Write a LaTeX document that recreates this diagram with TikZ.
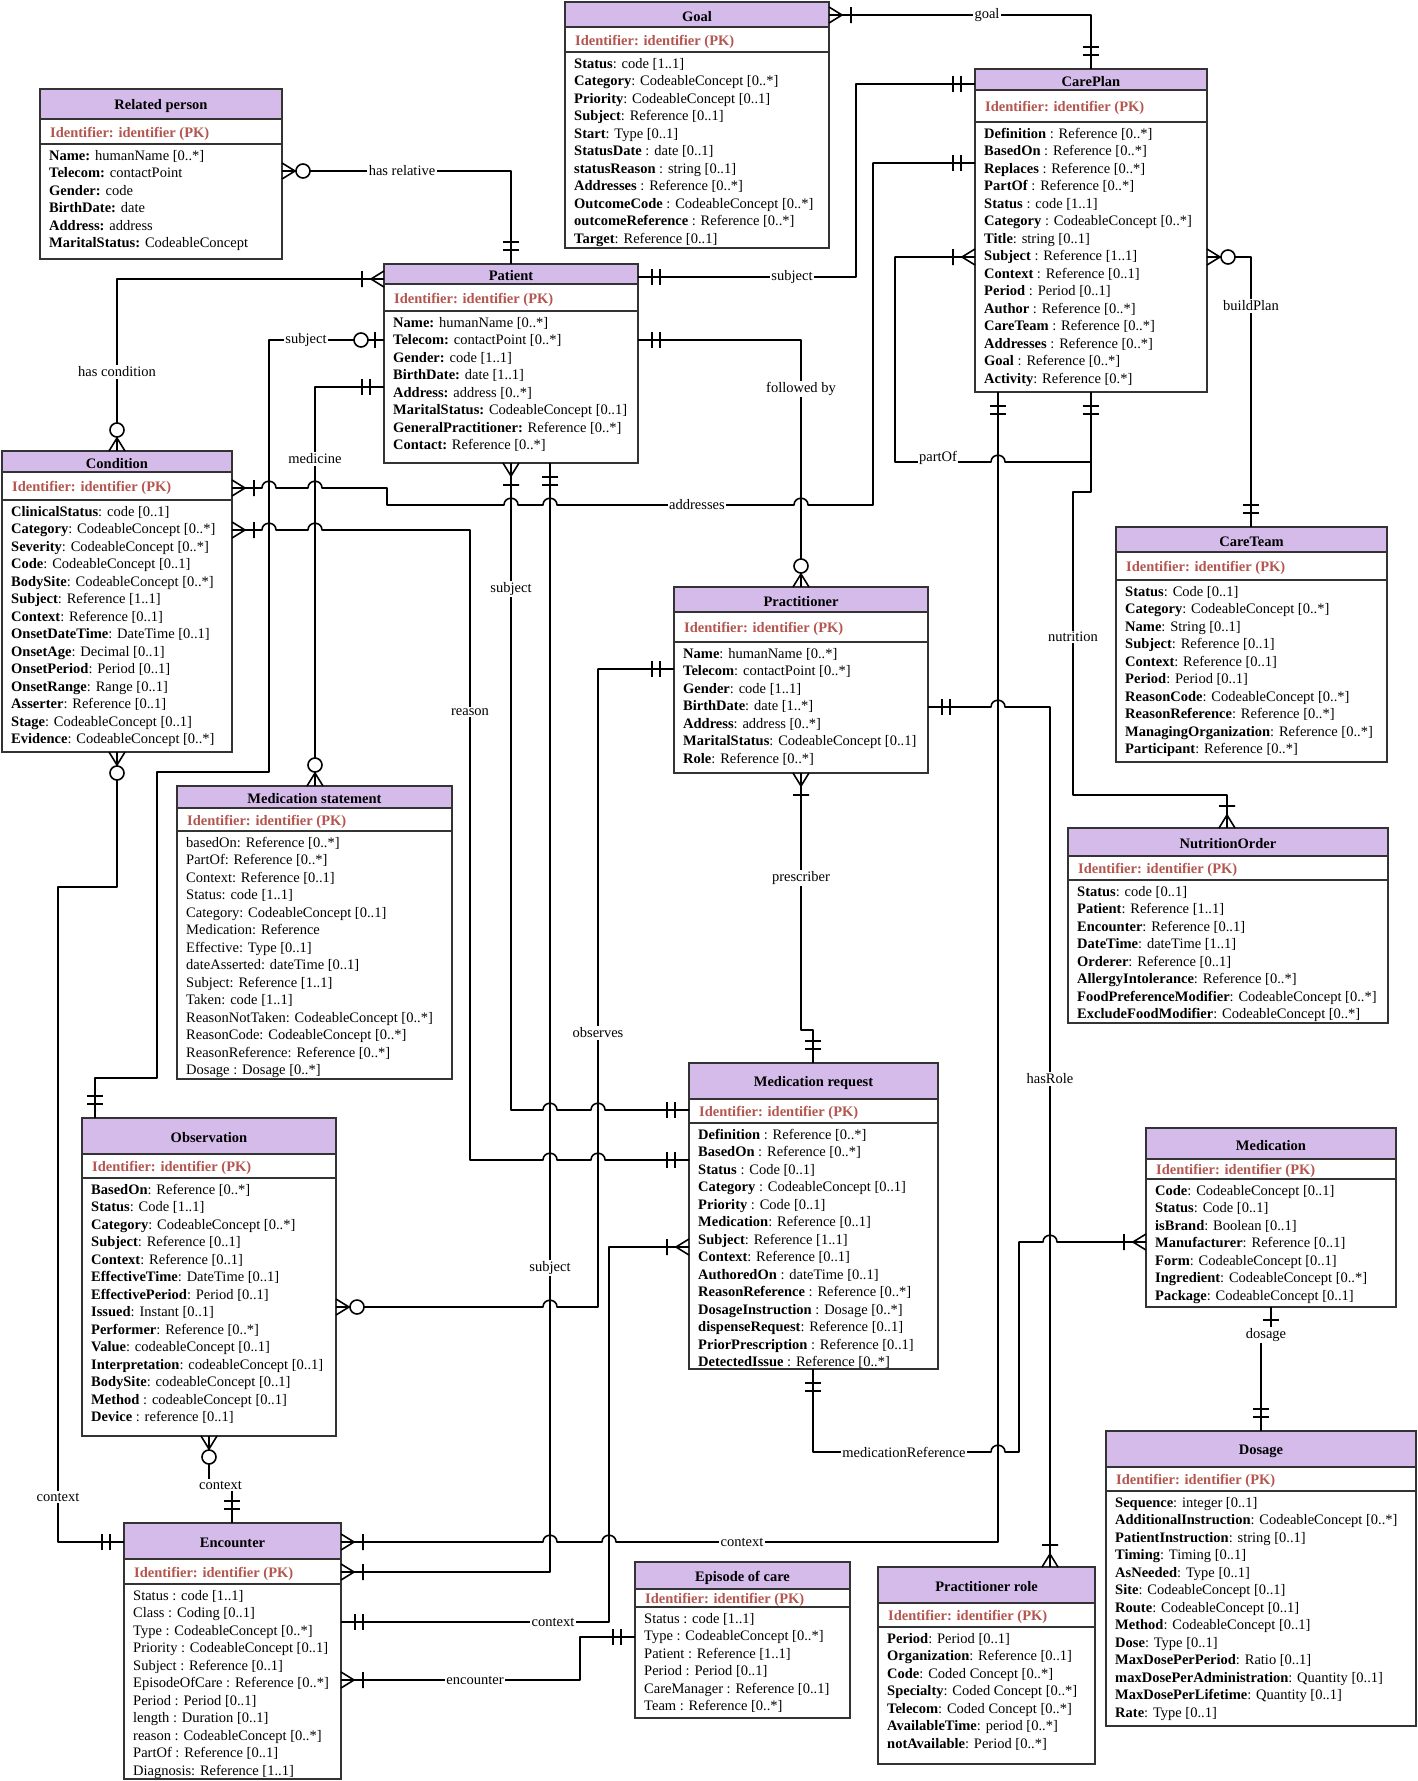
\documentclass[tikz,border=0pt]{standalone}
\usepackage{fontspec}
\setmainfont{Liberation Serif}
\usepackage{tikz}
\usetikzlibrary{arrows.meta,positioning,calc}
\definecolor{headfill}{HTML}{D4BBEA}
\definecolor{pkred}{HTML}{B4554F}
\definecolor{boxline}{HTML}{333333}
\newcommand{\erfont}{\fontsize{14.5}{17.5}\selectfont}

% crow's foot ends (box edge at the tip)
\pgfdeclarearrow{
  name = ERone,
  setup code = {\pgfarrowssettipend{0pt}\pgfarrowssetlineend{0pt}
    \pgfarrowssetbackend{-24pt}\pgfarrowssetvisualbackend{-24pt}},
  drawing code = {\pgfsetdash{}{0pt}
    \pgfpathmoveto{\pgfqpoint{-14pt}{-8pt}}\pgfpathlineto{\pgfqpoint{-14pt}{8pt}}
    \pgfpathmoveto{\pgfqpoint{-22pt}{-8pt}}\pgfpathlineto{\pgfqpoint{-22pt}{8pt}}
    \pgfusepathqstroke}
}
\pgfdeclarearrow{
  name = ERbar,
  setup code = {\pgfarrowssettipend{0pt}\pgfarrowssetlineend{0pt}
    \pgfarrowssetbackend{-16pt}\pgfarrowssetvisualbackend{-16pt}},
  drawing code = {\pgfsetdash{}{0pt}
    \pgfpathmoveto{\pgfqpoint{-13pt}{-8pt}}\pgfpathlineto{\pgfqpoint{-13pt}{8pt}}
    \pgfusepathqstroke}
}
\pgfdeclarearrow{
  name = ERmany,
  setup code = {\pgfarrowssettipend{0pt}\pgfarrowssetlineend{0pt}
    \pgfarrowssetbackend{-24pt}\pgfarrowssetvisualbackend{-24pt}},
  drawing code = {\pgfsetdash{}{0pt}
    \pgfpathmoveto{\pgfqpoint{0pt}{8pt}}\pgfpathlineto{\pgfqpoint{-13pt}{0pt}}
    \pgfpathlineto{\pgfqpoint{0pt}{-8pt}}
    \pgfpathmoveto{\pgfqpoint{-22pt}{-8pt}}\pgfpathlineto{\pgfqpoint{-22pt}{8pt}}
    \pgfusepathqstroke}
}
\pgfdeclarearrow{
  name = ERzmany,
  setup code = {\pgfarrowssettipend{0pt}\pgfarrowssetlineend{0pt}
    \pgfarrowssetbackend{-29pt}\pgfarrowssetvisualbackend{-29pt}},
  drawing code = {\pgfsetdash{}{0pt}
    \pgfpathmoveto{\pgfqpoint{0pt}{8pt}}\pgfpathlineto{\pgfqpoint{-13pt}{0pt}}
    \pgfpathlineto{\pgfqpoint{0pt}{-8pt}}
    \pgfusepathqstroke
    \begin{pgfscope}\pgfsetfillcolor{white}
    \pgfpathcircle{\pgfqpoint{-21pt}{0pt}}{7pt}\pgfusepathqfillstroke
    \end{pgfscope}}
}
\pgfdeclarearrow{
  name = ERzone,
  setup code = {\pgfarrowssettipend{0pt}\pgfarrowssetlineend{0pt}
    \pgfarrowssetbackend{-31pt}\pgfarrowssetvisualbackend{-31pt}},
  drawing code = {\pgfsetdash{}{0pt}
    \pgfpathmoveto{\pgfqpoint{-9pt}{-8pt}}\pgfpathlineto{\pgfqpoint{-9pt}{8pt}}
    \pgfusepathqstroke
    \begin{pgfscope}\pgfsetfillcolor{white}
    \pgfpathcircle{\pgfqpoint{-23pt}{0pt}}{7pt}\pgfusepathqfillstroke
    \end{pgfscope}}
}

\tikzset{
  tablebox/.style={rectangle,inner sep=0pt,outer sep=0pt},
  tableline/.style={draw=boxline,line width=1.3pt},
  titletext/.style={inner sep=0pt,font=\erfont\bfseries},
  pktext/.style={anchor=west,inner sep=0pt,text=pkred,font=\erfont\bfseries},
  rowtext/.style={anchor=north west,inner sep=0pt,align=left,font=\erfont},
  rel/.style={draw=black,line width=1.6pt,line join=round},
  rellabel/.style={fill=white,inner sep=1.5pt,font=\erfont}
}

% line jumps on horizontal runs
\newcommand{\hopr}[2]{-- (#1-7,#2) .. controls (#1-7,#2-9) and (#1+7,#2-9) .. (#1+7,#2)}
\newcommand{\hopl}[2]{-- (#1+7,#2) .. controls (#1+7,#2-9) and (#1-7,#2-9) .. (#1-7,#2)}

% name, left, top, width, height, title bar, key row, title, rows
\newcommand{\ertable}[9]{%
  \node[tablebox,minimum width=#4,minimum height=#5] (#1) at (#2+#4/2,#3+#5/2) {};
  \fill[headfill] (#1.north west) rectangle (#2+#4,#3+#6);
  \draw[tableline] (#2,#3+#6) -- (#2+#4,#3+#6) (#2,#3+#6+#7) -- (#2+#4,#3+#6+#7);
  \draw[tableline] (#1.north west) rectangle (#1.south east);
  \node[titletext] (#1-title) at (#2+#4/2,#3+#6/2+2) {#8};
  \node[pktext] (#1-pk) at (#2+10,#3+#6+#7/2+2) {Identifier: identifier (PK)};
  \node[rowtext] (#1-rows) at (#2+9,#3+#6+#7+6) {#9};
}

\begin{document}
\begin{tikzpicture}[x=1pt,y=-1pt]
  \fill[white] (0,0) rectangle (1418,1781);
  \useasboundingbox (0,0) rectangle (1418,1781);

  \ertable{relperson}{40}{89}{242}{170}{30}{25}{Related person}{%
    \textbf{Name:} humanName [0..*]\\\textbf{Telecom:} contactPoint\\\textbf{Gender:} code\\
    \textbf{BirthDate:} date\\\textbf{Address:} address\\\textbf{MaritalStatus:} CodeableConcept}
  \ertable{goal}{565}{2}{264}{246}{25}{25}{Goal}{%
    \textbf{Status}: code [1..1]\\\textbf{Category}: CodeableConcept [0..*]\\
    \textbf{Priority}: CodeableConcept [0..1]\\\textbf{Subject}: Reference [0..1]\\
    \textbf{Start}: Type [0..1]\\\textbf{StatusDate} : date [0..1]\\
    \textbf{statusReason} : string [0..1]\\\textbf{Addresses} : Reference [0..*]\\
    \textbf{OutcomeCode} : CodeableConcept [0..*]\\\textbf{outcomeReference} : Reference [0..*]\\
    \textbf{Target}: Reference [0..1]}
  \ertable{careplan}{975}{69}{232}{323}{21}{32}{CarePlan}{%
    \textbf{Definition} : Reference [0..*]\\\textbf{BasedOn} : Reference [0..*]\\
    \textbf{Replaces} : Reference [0..*]\\\textbf{PartOf} : Reference [0..*]\\
    \textbf{Status} : code [1..1]\\\textbf{Category} : CodeableConcept [0..*]\\
    \textbf{Title}: string [0..1]\\\textbf{Subject} : Reference [1..1]\\
    \textbf{Context} : Reference [0..1]\\\textbf{Period} : Period [0..1]\\
    \textbf{Author} : Reference [0..*]\\\textbf{CareTeam} : Reference [0..*]\\
    \textbf{Addresses} : Reference [0..*]\\\textbf{Goal} : Reference [0..*]\\
    \textbf{Activity}: Reference [0.*]}
  \ertable{patient}{384}{264}{254}{199}{20}{27}{Patient}{%
    \textbf{Name:} humanName [0..*]\\\textbf{Telecom:} contactPoint [0..*]\\
    \textbf{Gender:} code [1..1]\\\textbf{BirthDate:} date [1..1]\\
    \textbf{Address:} address [0..*]\\\textbf{MaritalStatus:} CodeableConcept [0..1]\\
    \textbf{GeneralPractitioner:} Reference [0..*]\\\textbf{Contact:} Reference [0..*]}
  \ertable{condition}{2}{451}{230}{301}{21}{28}{Condition}{%
    \textbf{ClinicalStatus}: code [0..1]\\\textbf{Category}: CodeableConcept [0..*]\\
    \textbf{Severity}: CodeableConcept [0..*]\\\textbf{Code}: CodeableConcept [0..1]\\
    \textbf{BodySite}: CodeableConcept [0..*]\\\textbf{Subject}: Reference [1..1]\\
    \textbf{Context}: Reference [0..1]\\\textbf{OnsetDateTime}: DateTime [0..1]\\
    \textbf{OnsetAge}: Decimal [0..1]\\\textbf{OnsetPeriod}: Period [0..1]\\
    \textbf{OnsetRange}: Range [0..1]\\\textbf{Asserter}: Reference [0..1]\\
    \textbf{Stage}: CodeableConcept [0..1]\\\textbf{Evidence}: CodeableConcept [0..*]}
  \ertable{careteam}{1116}{527}{271}{235}{25}{28}{CareTeam}{%
    \textbf{Status}: Code [0..1]\\\textbf{Category}: CodeableConcept [0..*]\\
    \textbf{Name}: String [0..1]\\\textbf{Subject}: Reference [0..1]\\
    \textbf{Context}: Reference [0..1]\\\textbf{Period}: Period [0..1]\\
    \textbf{ReasonCode}: CodeableConcept [0..*]\\\textbf{ReasonReference}: Reference [0..*]\\
    \textbf{ManagingOrganization}: Reference [0..*]\\\textbf{Participant}: Reference [0..*]}
  \ertable{practitioner}{674}{587}{254}{186}{25}{30}{Practitioner}{%
    \textbf{Name}: humanName [0..*]\\\textbf{Telecom}: contactPoint [0..*]\\
    \textbf{Gender}: code [1..1]\\\textbf{BirthDate}: date [1..*]\\
    \textbf{Address}: address [0..*]\\\textbf{MaritalStatus}: CodeableConcept [0..1]\\
    \textbf{Role}: Reference [0..*]}
  \ertable{medstatement}{177}{786}{275}{293}{22}{23}{Medication statement}{%
    basedOn: Reference [0..*]\\PartOf: Reference [0..*]\\Context: Reference [0..1]\\
    Status: code [1..1]\\Category: CodeableConcept [0..1]\\Medication: Reference\\
    Effective: Type [0..1]\\dateAsserted: dateTime [0..1]\\Subject: Reference [1..1]\\
    Taken: code [1..1]\\ReasonNotTaken: CodeableConcept [0..*]\\
    ReasonCode: CodeableConcept [0..*]\\ReasonReference: Reference [0..*]\\
    Dosage : Dosage [0..*]}
  \ertable{nutrition}{1068}{828}{320}{195}{28}{24}{NutritionOrder}{%
    \textbf{Status}: code [0..1]\\\textbf{Patient}: Reference [1..1]\\
    \textbf{Encounter}: Reference [0..1]\\\textbf{DateTime}: dateTime [1..1]\\
    \textbf{Orderer}: Reference [0..1]\\\textbf{AllergyIntolerance}: Reference [0..*]\\
    \textbf{FoodPreferenceModifier}: CodeableConcept [0..*]\\
    \textbf{ExcludeFoodModifier}: CodeableConcept [0..*]}
  \ertable{medrequest}{689}{1063}{249}{306}{36}{24}{Medication request}{%
    \textbf{Definition} : Reference [0..*]\\\textbf{BasedOn} : Reference [0..*]\\
    \textbf{Status} : Code [0..1]\\\textbf{Category} : CodeableConcept [0..1]\\
    \textbf{Priority} : Code [0..1]\\\textbf{Medication}: Reference [0..1]\\
    \textbf{Subject}: Reference [1..1]\\\textbf{Context}: Reference [0..1]\\
    \textbf{AuthoredOn} : dateTime [0..1]\\\textbf{ReasonReference} : Reference [0..*]\\
    \textbf{DosageInstruction} : Dosage [0..*]\\\textbf{dispenseRequest}: Reference [0..1]\\
    \textbf{PriorPrescription} : Reference [0..1]\\\textbf{DetectedIssue} : Reference [0..*]}
  \ertable{observation}{82}{1118}{254}{318}{36}{24}{Observation}{%
    \textbf{BasedOn}: Reference [0..*]\\\textbf{Status}: Code [1..1]\\
    \textbf{Category}: CodeableConcept [0..*]\\\textbf{Subject}: Reference [0..1]\\
    \textbf{Context}: Reference [0..1]\\\textbf{EffectiveTime}: DateTime [0..1]\\
    \textbf{EffectivePeriod}: Period [0..1]\\\textbf{Issued}: Instant [0..1]\\
    \textbf{Performer}: Reference [0..*]\\\textbf{Value}: codeableConcept [0..1]\\
    \textbf{Interpretation}: codeableConcept [0..1]\\\textbf{BodySite}: codeableConcept [0..1]\\
    \textbf{Method} : codeableConcept [0..1]\\\textbf{Device} : reference [0..1]}
  \ertable{medication}{1146}{1128}{250}{179}{31}{20}{Medication}{%
    \textbf{Code}: CodeableConcept [0..1]\\\textbf{Status}: Code [0..1]\\
    \textbf{isBrand}: Boolean [0..1]\\\textbf{Manufacturer}: Reference [0..1]\\
    \textbf{Form}: CodeableConcept [0..1]\\\textbf{Ingredient}: CodeableConcept [0..*]\\
    \textbf{Package}: CodeableConcept [0..1]}
  \ertable{dosage}{1106}{1431}{310}{295}{36}{24}{Dosage}{%
    \textbf{Sequence}: integer [0..1]\\\textbf{AdditionalInstruction}: CodeableConcept [0..*]\\
    \textbf{PatientInstruction}: string [0..1]\\\textbf{Timing}: Timing [0..1]\\
    \textbf{AsNeeded}: Type [0..1]\\\textbf{Site}: CodeableConcept [0..1]\\
    \textbf{Route}: CodeableConcept [0..1]\\\textbf{Method}: CodeableConcept [0..1]\\
    \textbf{Dose}: Type [0..1]\\\textbf{MaxDosePerPeriod}: Ratio [0..1]\\
    \textbf{maxDosePerAdministration}: Quantity [0..1]\\
    \textbf{MaxDosePerLifetime}: Quantity [0..1]\\\textbf{Rate}: Type [0..1]}
  \ertable{encounter}{124}{1523}{217}{256}{36}{25}{Encounter}{%
    Status : code [1..1]\\Class : Coding [0..1]\\Type : CodeableConcept [0..*]\\
    Priority : CodeableConcept [0..1]\\Subject : Reference [0..1]\\
    EpisodeOfCare : Reference [0..*]\\Period : Period [0..1]\\length : Duration [0..1]\\
    reason : CodeableConcept [0..*]\\PartOf : Reference [0..1]\\Diagnosis: Reference [1..1]}
  \ertable{episode}{635}{1562}{215}{156}{27}{18}{Episode of care}{%
    Status : code [1..1]\\Type : CodeableConcept [0..*]\\Patient : Reference [1..1]\\
    Period : Period [0..1]\\CareManager : Reference [0..1]\\Team : Reference [0..*]}
  \ertable{practrole}{878}{1567}{217}{197}{36}{24}{Practitioner role}{%
    \textbf{Period}: Period [0..1]\\\textbf{Organization}: Reference [0..1]\\
    \textbf{Code}: Coded Concept [0..*]\\\textbf{Specialty}: Coded Concept [0..*]\\
    \textbf{Telecom}: Coded Concept [0..*]\\\textbf{AvailableTime}: period [0..*]\\
    \textbf{notAvailable}: Period [0..*]}

  % relationships
  \draw[rel,{ERmany}-{ERone}] (goal.east |- 0,15) -- (987,15) node[rellabel] (goal-lbl) {goal}
    -- (1091,15) -- (careplan.north -| 1091,0);
  \draw[rel,{ERzmany}-{ERone}] (relperson.east |- 0,171) -- (402,171) node[rellabel] (rel-lbl) {has relative}
    -- (511,171) -- (patient.north -| 511,0);
  \draw[rel,{ERmany}-{ERzmany}] (patient.west |- 0,279) -- (117,279) -- (117,372) node[rellabel] (cond-lbl) {has condition}
    -- (condition.north -| 117,0);
  \draw[rel,{ERone}-{ERone}] (patient.east |- 0,277) -- (792,277) node[rellabel] (subj1-lbl) {subject}
    -- (856,277) -- (856,84) -- (careplan.west |- 0,84);
  \draw[rel,{ERmany}-{ERone}] (condition.east |- 0,488) \hopr{269}{488} \hopr{315}{488} -- (387,488) -- (387,505)
    \hopr{511}{505} \hopr{550}{505} -- (697,505) node[rellabel] (addr-lbl) {addresses} \hopr{801}{505}
    -- (873,505) -- (873,163) -- (careplan.west |- 0,163);
  \draw[rel,{ERzmany}-{ERone}] (careplan.east |- 0,257) -- (1251,257) -- (1251,306) node[rellabel] (build-lbl) {buildPlan}
    -- (careteam.north -| 1251,0);
  \draw[rel,{ERmany}-{ERone}] (careplan.west |- 0,257) -- (895,257) -- (895,462) -- (938,462) node[rellabel,yshift=4pt] (part-lbl) {partOf}
    \hopr{998}{462} -- (1091,462) -- (careplan.south -| 1091,0);
  \draw[rel,{ERone}-{ERmany}] (careplan.south -| 1091,0) -- (1091,492) -- (1073,492) -- (1073,637) node[rellabel] (nutr-lbl) {nutrition}
    -- (1073,795) -- (1227,795) -- (nutrition.north -| 1227,0);
  \draw[rel,{ERone}-{ERzmany}] (patient.east |- 0,340) -- (801,340) -- (801,389) node[rellabel] (follow-lbl) {followed by}
    -- (practitioner.north -| 801,0);
  \draw[rel,{ERone}-{ERzmany}] (patient.west |- 0,387) -- (315,387) -- (315,459) node[rellabel] (med-lbl) {medicine}
    -- (medstatement.north -| 315,0);
  \draw[rel,{ERzone}-{ERone}] (patient.west |- 0,340) -- (306,340) node[rellabel] (subj2-lbl) {subject}
    -- (269,340) -- (269,772) -- (157,772) -- (157,1078) -- (95,1078) -- (observation.north -| 95,0);
  \draw[rel,{ERmany}-{ERone}] (patient.south -| 511,0) -- (511,589) node[rellabel] (subj3-lbl) {subject}
    -- (511,1110) \hopr{550}{1110} \hopr{598}{1110} -- (medrequest.west |- 0,1110);
  \draw[rel,{ERone}-{ERmany}] (patient.south -| 550,0) -- (550,1268) node[rellabel] (subj4-lbl) {subject}
    -- (550,1572) -- (encounter.east |- 0,1572);
  \draw[rel,{ERmany}-{ERone}] (condition.east |- 0,530) \hopr{269}{530} \hopr{315}{530} -- (470,530)
    -- (470,712) node[rellabel] (reason-lbl) {reason} -- (470,1160) \hopr{550}{1160} \hopr{598}{1160}
    -- (medrequest.west |- 0,1160);
  \draw[rel,{ERzmany}-{ERone}] (condition.south -| 117,0) -- (117,887) -- (58,887) -- (58,1497) node[rellabel] (ctx1-lbl) {context}
    -- (58,1542) -- (encounter.west |- 0,1542);
  \draw[rel,{ERzmany}-{ERone}] (observation.east |- 0,1307) \hopr{550}{1307} -- (598,1307)
    -- (598,1033) node[rellabel] (obs-lbl) {observes} -- (598,669) -- (practitioner.west |- 0,669);
  \draw[rel,{ERzmany}-{ERone}] (observation.south -| 209,0) -- (209,1485) -- node[rellabel] (ctx2-lbl) {context} (232,1485)
    -- (encounter.north -| 232,0);
  \draw[rel,{ERone}-{ERmany}] (careplan.south -| 998,0) -- (998,1542) -- (742,1542) node[rellabel] (ctx3-lbl) {context}
    \hopl{609}{1542} \hopl{550}{1542} -- (encounter.east |- 0,1542);
  \draw[rel,{ERmany}-{ERone}] (medrequest.west |- 0,1247) -- (609,1247) -- (609,1622) -- (553,1622) node[rellabel] (ctx4-lbl) {context}
    -- (encounter.east |- 0,1622);
  \draw[rel,{ERmany}-{ERone}] (encounter.east |- 0,1680) -- (475,1680) node[rellabel] (enc-lbl) {encounter}
    -- (580,1680) -- (580,1637) -- (episode.west |- 0,1637);
  \draw[rel,{ERmany}-{ERone}] (practitioner.south -| 801,0) -- (801,878) node[rellabel] (presc-lbl) {prescriber}
    -- (801,1030) -- (813,1030) -- (medrequest.north -| 813,0);
  \draw[rel,{ERone}-{ERmany}] (practitioner.east |- 0,707) \hopr{998}{707} -- (1050,707)
    -- (1050,1079) node[rellabel] (role-lbl) {hasRole} -- (practrole.north -| 1050,0);
  \draw[rel,{ERone}-{ERmany}] (medrequest.south -| 813,0) -- (813,1452) -- (904,1452) node[rellabel] (medref-lbl) {medicationReference}
    \hopr{998}{1452} -- (1019,1452) -- (1019,1242) \hopr{1050}{1242} -- (medication.west |- 0,1242);
  \draw[rel,{ERbar}-{ERone}] (medication.south -| 1271,0) -- (1271,1335) -- node[rellabel] (dose-lbl) {dosage} (1261,1335)
    -- (dosage.north -| 1261,0);
\end{tikzpicture}
\end{document}
